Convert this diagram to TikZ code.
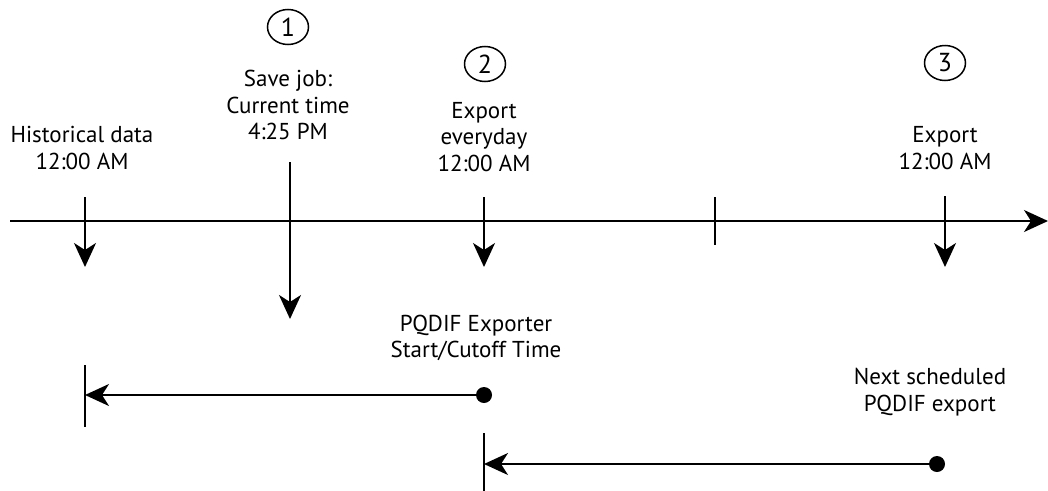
\documentclass[tikz,border=0pt]{standalone}
\usepackage{fontspec}
\setmainfont{PT Sans}
\usetikzlibrary{arrows.meta,shapes.geometric}
\begin{document}
\begin{tikzpicture}[x=1pt,y=-1pt,
  line width=1.9pt,
  tip/.style={-{Stealth[length=24pt,width=22pt,inset=7pt]}},
  lbl/.style={align=center,font=\fontsize{23}{26.5}\selectfont,inner sep=0pt},
  num/.style={ellipse,draw,line width=1.5pt,minimum width=41pt,minimum height=35pt,inner sep=0pt,font=\fontsize{26}{26}\selectfont},
  dot/.style={circle,fill,minimum size=16pt,inner sep=0pt}]
\useasboundingbox (0,0) rectangle (1048,490);
% axis
\coordinate (axL) at (10,221);
\coordinate (axR) at (1048,221);
\draw[tip] (axL) -- (axR);
% labels
\node[lbl] (hist) at (82,148) {Historical data\\12:00 AM};
\node[num] (n1) at (288,27) {1};
\node[lbl] (save) at (288,105) {Save job:\\Current time\\4:25 PM};
\node[num] (n2) at (485,64) {2};
\node[lbl] (exp2) at (484,137) {Export\\everyday\\12:00 AM};
\node[num] (n3) at (945,63) {3};
\node[lbl] (exp3) at (945,148) {Export\\12:00 AM};
\node[lbl] (pq) at (476,338) {PQDIF Exporter\\Start/Cutoff Time};
\node[lbl] (next) at (930,392) {Next scheduled\\PQDIF export};
% vertical arrows
\coordinate (h1) at (85,197); \coordinate (h2) at (85,267);
\draw[tip] (h1) -- (h2);
\coordinate (s1) at (290,162); \coordinate (s2) at (290,319);
\draw[tip] (s1) -- (s2);
\coordinate (e1) at (484,197); \coordinate (e2) at (484,267);
\draw[tip] (e1) -- (e2);
\coordinate (t1) at (715,197); \coordinate (t2) at (715,245);
\draw (t1) -- (t2);
\coordinate (x1) at (945,196); \coordinate (x2) at (945,267);
\draw[tip] (x1) -- (x2);
% lower spans
\node[dot] (d1) at (484,395) {};
\coordinate (a1) at (85,395);
\coordinate (a1t) at (85,365); \coordinate (a1b) at (85,427);
\draw (a1t) -- (a1b);
\draw[tip] (d1.center) -- (a1);
\node[dot] (d2) at (937,464) {};
\coordinate (a2) at (484,464);
\coordinate (a2t) at (484,433); \coordinate (a2b) at (484,491);
\draw (a2t) -- (a2b);
\draw[tip] (d2.center) -- (a2);
\end{tikzpicture}
\end{document}
